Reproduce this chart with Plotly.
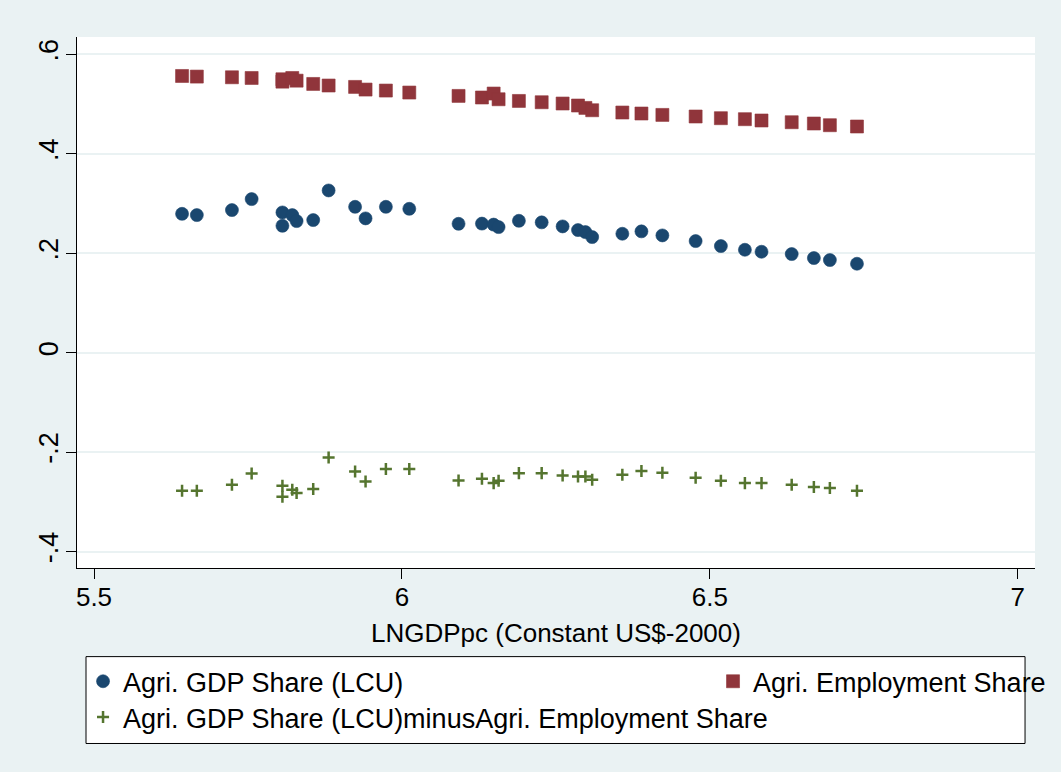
import plotly.graph_objects as go

# Log GDP per capita (constant US$ 2000)
ln_gdp_pc = [5.643, 5.667, 5.724, 5.756, 5.806, 5.806, 5.822, 5.829, 5.856, 5.881,
             5.924, 5.941, 5.974, 6.012, 6.092, 6.130, 6.149, 6.157, 6.190, 6.227,
             6.261, 6.286, 6.298, 6.309, 6.358, 6.389, 6.423, 6.477, 6.518, 6.557,
             6.584, 6.633, 6.669, 6.695, 6.739]

# Agricultural share of GDP (local currency units)
agri_gdp_share = [0.2792, 0.2766, 0.2867, 0.3088, 0.2820, 0.2551, 0.2766, 0.2646, 0.2666, 0.3262,
                  0.2933, 0.2700, 0.2933, 0.2893, 0.2591, 0.2595, 0.2575, 0.2525, 0.2652, 0.2620,
                  0.2539, 0.2465, 0.2425, 0.2324, 0.2391, 0.2439, 0.2358, 0.2244, 0.2143, 0.2069,
                  0.2029, 0.1983, 0.1902, 0.1862, 0.1788]

# Agricultural share of employment
agri_emp_share = [0.5564, 0.5552, 0.5538, 0.5524, 0.5498, 0.5450, 0.5524, 0.5470, 0.5404, 0.5372,
                  0.5344, 0.5291, 0.5271, 0.5231, 0.5163, 0.5131, 0.5211, 0.5096, 0.5062, 0.5036,
                  0.5010, 0.4970, 0.4922, 0.4875, 0.4829, 0.4809, 0.4781, 0.4749, 0.4715, 0.4695,
                  0.4669, 0.4634, 0.4608, 0.4574, 0.4548]

# GDP share minus employment share
share_gap = [-0.2778, -0.2778, -0.2658, -0.2431, -0.2678, -0.2899, -0.2758, -0.2824, -0.2744, -0.2109,
             -0.2391, -0.2591, -0.2342, -0.2342, -0.2571, -0.2537, -0.2624, -0.2577, -0.2423, -0.2423,
             -0.2471, -0.2491, -0.2491, -0.2557, -0.2457, -0.2382, -0.2417, -0.2517, -0.2577, -0.2624,
             -0.2624, -0.2658, -0.2704, -0.2724, -0.2778]

x_ticks = [5.5, 6, 6.5, 7]
x_tick_text = ["5.5", "6", "6.5", "7"]
y_ticks = [-0.4, -0.2, 0, 0.2, 0.4, 0.6]
y_tick_text = ["-.4", "-.2", "0", ".2", ".4", ".6"]
x_title = "LNGDPpc (Constant US$-2000)"

NAVY = "#1A476F"
MAROON = "#90353B"
GREEN = "#55752F"
REGION_BG = "#EAF2F3"
FONT = "Liberation Sans, Arial, sans-serif"
FS = 27

fig = go.Figure()
fig.add_trace(go.Scatter(
    x=ln_gdp_pc, y=agri_gdp_share, mode="markers",
    name="Agri. GDP Share (LCU)", legend="legend",
    marker=dict(symbol="circle", size=13, color=NAVY, line=dict(width=0.6, color=NAVY)),
))
fig.add_trace(go.Scatter(
    x=ln_gdp_pc, y=agri_emp_share, mode="markers",
    name="Agri. Employment Share", legend="legend2",
    marker=dict(symbol="square", size=13, color=MAROON, line=dict(width=0.6, color=MAROON)),
))
fig.add_trace(go.Scatter(
    x=ln_gdp_pc, y=share_gap, mode="markers",
    name="Agri. GDP Share (LCU)minusAgri. Employment Share", legend="legend3",
    marker=dict(symbol="cross-thin", size=8.6, color=GREEN, line=dict(width=2.5, color=GREEN)),
))

# white legend box with black outline
fig.add_shape(type="rect", xref="paper", yref="paper",
              x0=0.0094, x1=0.9896, y0=-0.3305, y1=-0.1669,
              line=dict(color="black", width=1), fillcolor="white", layer="below")

# x-axis title
fig.add_annotation(text=x_title, xref="paper", yref="paper", x=0.5, y=-0.1222,
                   xanchor="center", yanchor="middle", showarrow=False,
                   font=dict(family=FONT, size=26, color="black"))


def legend_at(x, y):
    return dict(
        orientation="v", x=x, xanchor="left", y=y, yanchor="top",
        bgcolor="rgba(0,0,0,0)", borderwidth=0,
        font=dict(family=FONT, size=FS, color="black"),
    )


fig.update_layout(
    width=1061, height=772,
    margin=dict(l=77, r=26, t=37, b=204, autoexpand=False),
    paper_bgcolor=REGION_BG,
    plot_bgcolor="white",
    font=dict(family=FONT, size=FS, color="black"),
    showlegend=True,
    legend=legend_at(0.0063, -0.168),
    legend2=legend_at(0.6639, -0.168),
    legend3=legend_at(0.0063, -0.2355),
    xaxis=dict(
        range=[5.4724, 7.0281], tickmode="array", tickvals=x_ticks, ticktext=x_tick_text,
        showgrid=False, zeroline=False, showline=True, linecolor="black", linewidth=1,
        ticks="outside", ticklen=10, tickwidth=1, tickcolor="black",
        tickfont=dict(family=FONT, size=26), ticklabelstandoff=-4,
    ),
    yaxis=dict(
        range=[-0.4331, 0.6348], tickmode="array", tickvals=y_ticks, ticktext=y_tick_text,
        showgrid=True, gridcolor=REGION_BG, gridwidth=2,
        zeroline=False, showline=True, linecolor="black", linewidth=1,
        ticks="outside", ticklen=10, tickwidth=1, tickcolor="black",
        tickangle=-90, tickfont=dict(family=FONT, size=FS), ticklabelstandoff=-3,
    ),
)

fig.write_html("out.html")
